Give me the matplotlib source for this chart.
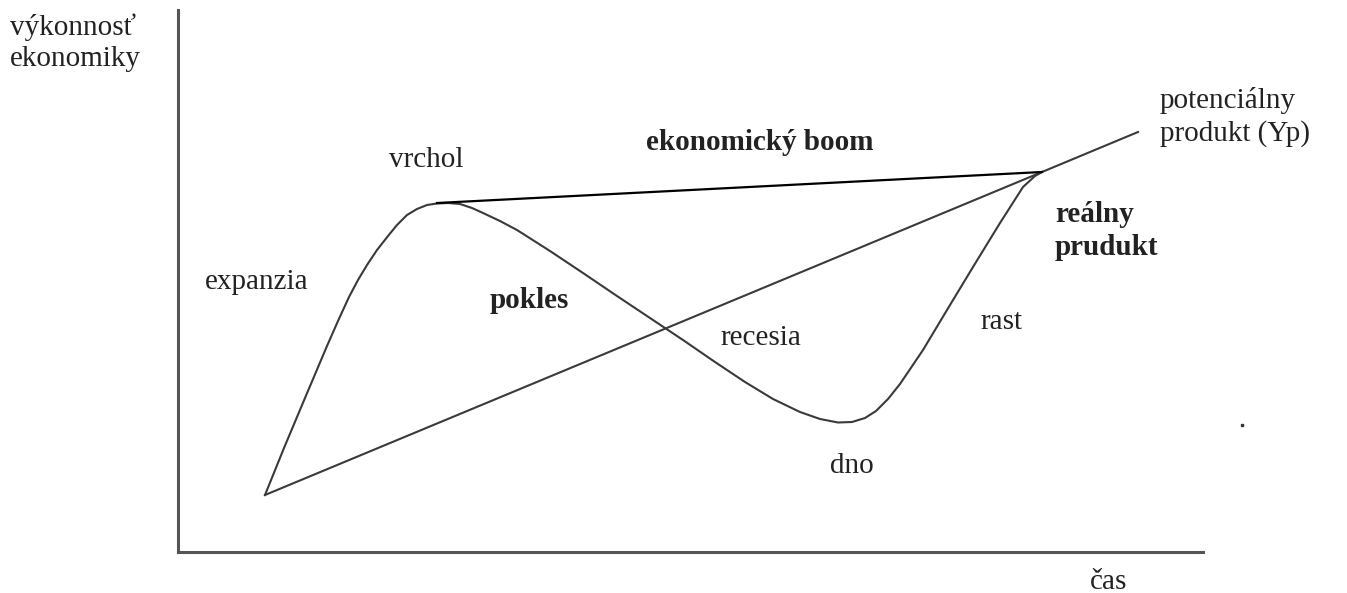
import matplotlib
matplotlib.use("Agg")
import matplotlib.pyplot as plt

real_t = [8.7, 10.6, 12.7, 14.9, 16.0, 17.1, 18.0, 18.9, 19.9, 21.0, 21.9, 22.9,
          23.9, 24.9, 25.9, 27.0, 28.2, 29.4, 30.5, 32.2, 33.9, 37.2, 40.5, 43.9,
          47.2, 50.5, 53.7, 56.7, 59.5, 62.2, 64.2, 66.0, 67.4, 68.7, 69.8, 71.0,
          72.2, 74.5, 76.9, 79.5, 82.2, 84.5, 85.7, 86.4]
real_y = [5.7, 10.4, 15.4, 20.6, 23.1, 25.5, 27.2, 28.7, 30.2, 31.6, 32.7, 33.7,
          34.3, 34.7, 34.85, 34.9, 34.8, 34.4, 33.9, 33.1, 32.2, 30.1, 27.9, 25.6,
          23.4, 21.2, 19.0, 17.0, 15.3, 14.0, 13.3, 12.95, 13.0, 13.4, 14.1, 15.3,
          16.8, 20.2, 24.2, 28.5, 32.9, 36.5, 37.6, 38.0]

# potential output (Yp) trend line
pot_t = [8.7, 86.4, 96.0]
pot_y = [5.7, 38.0, 42.0]

# peak-to-peak line (ekonomický boom)
boom_t = [25.9, 86.4]
boom_y = [34.9, 38.0]

W, H = 1347, 593
fig = plt.figure(figsize=(W / 100, H / 100), dpi=100)
ax = fig.add_axes([178 / W, 41 / H, 1025 / W, 542 / H])
ax.set_xlim(0, 102.5)
ax.set_ylim(0, 54.2)

for s in ["top", "right"]:
    ax.spines[s].set_visible(False)
for s in ["left", "bottom"]:
    ax.spines[s].set_color("#555555")
    ax.spines[s].set_linewidth(2.2)
ax.set_xticks([])
ax.set_yticks([])

ax.plot(real_t, real_y, color="#3a3a3a", lw=1.5, solid_joinstyle="round")
ax.plot(pot_t, pot_y, color="#3a3a3a", lw=1.5)
ax.plot(boom_t, boom_y, color="black", lw=1.6)
ax.plot([106.4], [12.7], marker="s", ms=1.5, color="#333333", clip_on=False)

font = "Liberation Serif"
fs = 21
col = "#222222"

def label(x, y, s, bold=False, ha="left"):
    ax.text(x, y, s, fontsize=fs, family=font, color=col, ha=ha, va="center",
            fontweight="bold" if bold else "normal", linespacing=1.25,
            clip_on=False)

label(-16.8, 50.9, "výkonnosť\nekonomiky")
label(24.8, 39.2, "vrchol", ha="center")
label(58.2, 41.0, "ekonomický boom", bold=True, ha="center")
label(98.2, 43.5, "potenciálny\nprodukt (Yp)")
label(87.7, 32.1, "reálny\nprudukt", bold=True)
label(2.7, 27.0, "expanzia")
label(31.2, 25.2, "pokles", bold=True)
label(54.2, 21.4, "recesia")
label(80.2, 23.0, "rast")
label(65.2, 8.6, "dno")
label(91.2, -3.0, "čas")

fig.savefig("out.png", dpi=100, facecolor="white")
